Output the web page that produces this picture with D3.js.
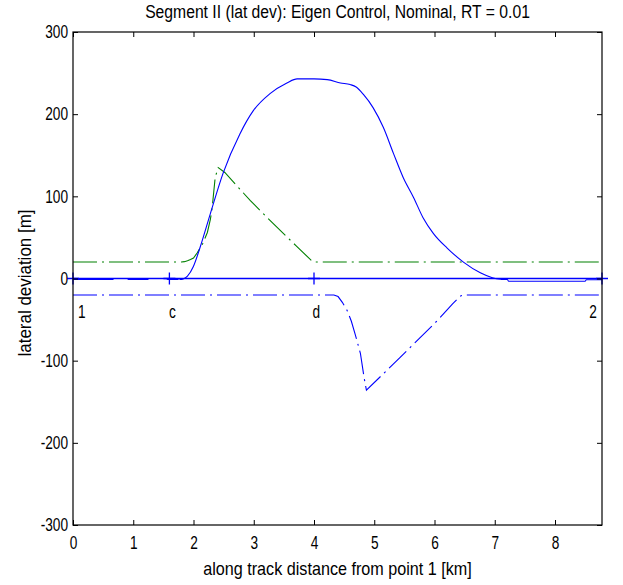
<!DOCTYPE html>
<html><head><meta charset="utf-8">
<script src="https://cdn.jsdelivr.net/npm/d3@7"></script>
<style>
body{margin:0;background:#fff}
svg{display:block}
text{font-family:"Liberation Sans",Arial,Helvetica,sans-serif;fill:#000}
</style>
</head><body>
<svg id="chart" width="623" height="585"></svg>
<script>
// ---------- data ----------
const titleText = "Segment II (lat dev): Eigen Control, Nominal, RT = 0.01";
const xLabelText = "along track distance from point 1 [km]";
const yLabelText = "lateral deviation [m]";
const xDomain = [0, 8.78];
const yDomain = [-300, 300];
const xTicks = [0, 1, 2, 3, 4, 5, 6, 7, 8];
const yTicks = [-300, -200, -100, 0, 100, 200, 300];

// actual lateral deviation (blue solid)
const devX = [0, 0.03, 0.66, 0.68, 0.9, 0.92, 1.24, 1.26, 1.55, 1.57, 1.74, 1.76, 1.78, 1.83, 1.9, 2.0, 2.11, 2.28, 2.49, 2.77, 2.99, 3.27, 3.55, 3.72, 4.0, 4.22, 4.44, 4.6, 4.7, 4.82, 4.98, 5.15, 5.32, 5.48, 5.65, 5.81, 5.98, 6.21, 6.48, 6.76, 6.96, 7.1, 7.14, 7.21, 7.23, 8.5, 8.52, 8.78];
const devY = [0, -1.3, -1.3, 0, 0, -1.3, -1.3, 0, 0, -1.3, -1.3, 0, -1.3, -0.5, 3, 15, 38, 79, 128, 176, 204, 225, 238, 243, 243, 242, 238, 236, 233, 224, 208, 184, 152, 123, 99, 74, 55, 37, 20, 7, 1, -1, -1.3, -1.3, -3.3, -3.3, -1.5, -1.5];

// upper bound (green dash-dot)
const upX = [0, 1.8, 1.85, 1.9, 1.95, 2.0, 2.06, 2.15, 2.23, 2.28, 2.31, 2.36, 2.41, 2.52, 2.94, 3.32, 3.7, 3.97, 4.0, 8.78];
const upY = [20, 20, 20.5, 21.5, 23, 25, 31, 42, 56, 72, 86, 123, 135, 129, 95, 67, 40, 21, 20, 20];

// lower bound (blue dash-dot)
const loX = [0, 4.33, 4.4, 4.47, 4.55, 4.62, 4.68, 4.77, 4.83, 4.87, 5.43, 6.05, 6.3, 6.38, 6.44, 6.48, 8.78];
const loY = [-20, -20, -22, -29, -39, -52, -67, -91, -120, -136, -96, -51, -31, -25, -21, -20, -20];

// reference track and waypoints
const trackX = [0, 8.78];
const trackY = [0, 0];
const wpNames = ["1", "c", "d", "2"];
const wpX = [0, 1.6, 4.0, 8.78];
const wpLabelX = [0.145, 1.65, 4.04, 8.63];
const wpLabelY = -47.5;

// ---------- layout ----------
const svg = d3.select("#chart");
const L = 73, R = 602, T = 32, B = 525;
const x = d3.scaleLinear().domain(xDomain).range([L, R]);
const y = d3.scaleLinear().domain(yDomain).range([B, T]);
const FS = 19, CONDENSE = 0.72;

// horizontally condense a text around its anchor point (MATLAB-like narrow font)
function squeeze(node, k, rot) {
  const s = d3.select(node);
  const px = +s.attr("x") || 0, py = +s.attr("y") || 0;
  s.attr("x", 0).attr("y", 0)
   .attr("transform", `translate(${px},${py})${rot ? ` rotate(${rot})` : ""} scale(${k},1)`);
}
function squeezeTo(node, width, rot) {
  squeeze(node, width / node.getComputedTextLength(), rot);
}

const zip = (xs, ys) => xs.map((v, i) => [v, ys[i]]);
const smooth = d3.line().x(d => x(d[0])).y(d => y(d[1])).curve(d3.curveMonotoneX);
const straight = d3.line().x(d => x(d[0])).y(d => y(d[1]));

svg.append("defs").append("clipPath").attr("id", "clip")
  .append("rect").attr("x", L).attr("y", T).attr("width", R - L).attr("height", B - T);

const plot = svg.append("g").attr("clip-path", "url(#clip)");

plot.append("path").datum(zip(upX, upY)).attr("d", straight)
  .attr("fill", "none").attr("stroke", "#008000").attr("stroke-width", 1.1)
  .attr("stroke-dasharray", "24,5,2,5");

plot.append("path").datum(zip(loX, loY)).attr("d", straight)
  .attr("fill", "none").attr("stroke", "#0000ff").attr("stroke-width", 1.1)
  .attr("stroke-dasharray", "24,5,2,5");

svg.append("path").datum(zip(trackX, trackY)).attr("d", straight)
  .attr("fill", "none").attr("stroke", "#0000ff").attr("stroke-width", 1.6);

plot.append("path").datum(zip(devX, devY)).attr("d", smooth)
  .attr("fill", "none").attr("stroke", "#0000ff").attr("stroke-width", 1.1);

// waypoint "+" markers
const wp = svg.append("g");
wpX.forEach((v, i) => {
  const cx = x(v), cy = y(0);
  wp.append("path").attr("d", `M${cx - 6},${cy}H${cx + 6}M${cx},${cy - 6}V${cy + 6}`)
    .attr("stroke", "#0000ff").attr("stroke-width", 1.3).attr("fill", "none");
  wp.append("text").attr("x", x(wpLabelX[i])).attr("y", y(wpLabelY))
    .attr("text-anchor", "middle").attr("font-size", FS).text(wpNames[i]);
});

// axes with inward ticks on all four sides
const fmt = d => String(d);
const ax = svg.append("g").attr("class", "axes");
const gB = ax.append("g").attr("transform", `translate(0,${B})`)
  .call(d3.axisBottom(x).tickValues(xTicks).tickFormat(fmt).tickSizeInner(-5).tickSizeOuter(0).tickPadding(10));
const gT = ax.append("g").attr("transform", `translate(0,${T})`)
  .call(d3.axisTop(x).tickValues(xTicks).tickFormat("").tickSizeInner(-5).tickSizeOuter(0));
const gL = ax.append("g").attr("transform", `translate(${L},0)`)
  .call(d3.axisLeft(y).tickValues(yTicks).tickFormat(fmt).tickSizeInner(-5).tickSizeOuter(0).tickPadding(5));
const gR = ax.append("g").attr("transform", `translate(${R},0)`)
  .call(d3.axisRight(y).tickValues(yTicks).tickFormat("").tickSizeInner(-5).tickSizeOuter(0));
[gB, gT, gL, gR].forEach(g => {
  g.select(".domain").remove();
  g.selectAll("line").attr("stroke", "#000");
  g.selectAll("text").attr("font-size", FS).attr("font-family", null).attr("fill", "#000");
});
gL.selectAll("text").attr("dy", "0.3em");

ax.append("rect").attr("x", L).attr("y", T).attr("width", R - L).attr("height", B - T)
  .attr("fill", "none").attr("stroke", "#000").attr("stroke-width", 1.2);

// title and labels
const title = svg.append("text").attr("x", (L + R) / 2).attr("y", 18).attr("text-anchor", "middle")
  .attr("font-size", FS).text(titleText);
const xl = svg.append("text").attr("x", (L + R) / 2).attr("y", 575).attr("text-anchor", "middle")
  .attr("font-size", FS).text(xLabelText);
const yl = svg.append("text").attr("x", 31).attr("y", 283).attr("text-anchor", "middle")
  .attr("font-size", FS).text(yLabelText);

squeezeTo(title.node(), 385);
squeezeTo(xl.node(), 269);
squeezeTo(yl.node(), 147, -90);
svg.selectAll(".axes text").each(function () { squeeze(this, CONDENSE); });
wp.selectAll("text").each(function () { squeeze(this, CONDENSE); });
</script>
</body></html>
